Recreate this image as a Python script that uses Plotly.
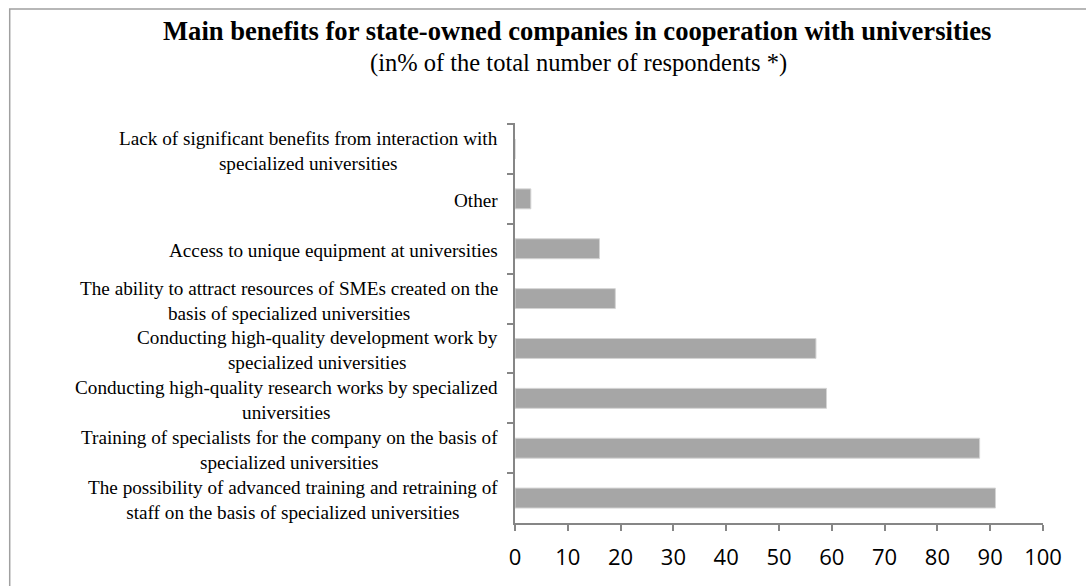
import plotly.graph_objects as go

categories = [
    "Lack of significant benefits from interaction with<br>specialized universities",
    "Other",
    "Access to unique equipment at universities",
    "The ability to attract resources of SMEs created on the<br>basis of specialized universities",
    "Conducting high-quality development work by<br>specialized universities",
    "Conducting high-quality research works by specialized<br>universities",
    "Training of specialists for the company on the basis of<br>specialized universities",
    "The possibility of advanced training and retraining of<br>staff on the basis of specialized universities",
]
values = [0, 3, 16, 19, 57, 59, 88, 91]
x_ticks = list(range(0, 101, 10))

title_text = "<b>Main benefits for state-owned companies in cooperation with universities</b>"
subtitle_text = "(in% of the total number of respondents *)"

serif = "Liberation Serif"
axis_gray = "#868686"

fig = go.Figure()
fig.add_trace(go.Bar(
    x=values, y=categories, orientation="h",
    marker=dict(color="#a6a6a6", line=dict(color="#d4d4d4", width=1)),
    hoverinfo="x+y",
))

annotations = []
for c in categories:
    annotations.append(dict(
        x=0, xref="paper", y=c, yref="y", text=c, showarrow=False,
        xanchor="right", yanchor="middle", align="center", xshift=-16, yshift=-2,
        borderpad=0,
        font=dict(family=serif, size=19.2, color="#000000"),
    ))
annotations.append(dict(
    x=0.117, xref="paper", y=1.23, yref="paper", text=title_text, showarrow=False,
    xanchor="center", yanchor="middle",
    font=dict(family=serif, size=26.6, color="#000000"),
))
annotations.append(dict(
    x=0.121, xref="paper", y=1.15, yref="paper", text=subtitle_text, showarrow=False,
    xanchor="center", yanchor="middle",
    font=dict(family=serif, size=24.5, color="#000000"),
))

fig.update_layout(
    width=1086, height=586,
    margin=dict(l=515, r=43, t=123, b=63),
    paper_bgcolor="white", plot_bgcolor="white",
    showlegend=False,
    bargap=0.6,
    annotations=annotations,
    shapes=[dict(type="rect", xref="paper", yref="paper",
                 x0=-0.957, x1=1.3, y0=-0.2, y1=1.285,
                 line=dict(color="#a0a0a0", width=1.5), layer="below")],
    xaxis=dict(
        range=[0, 100], tickvals=x_ticks, ticktext=[str(v) for v in x_ticks],
        showgrid=False, zeroline=False, showline=True, linecolor=axis_gray, linewidth=1.5,
        ticks="outside", ticklen=6, tickcolor=axis_gray, tickwidth=1.5,
        tickfont=dict(family="Open Sans", size=22, color="#000000"),
        ticklabelstandoff=8, fixedrange=True,
    ),
    yaxis=dict(
        autorange="reversed", showticklabels=False,
        showgrid=False, zeroline=False, showline=True, linecolor=axis_gray, linewidth=1.5,
        ticks="outside", ticklen=6, tickcolor=axis_gray, tickwidth=1.5,
        tickson="boundaries", fixedrange=True,
    ),
)

fig.write_html("out.html")
